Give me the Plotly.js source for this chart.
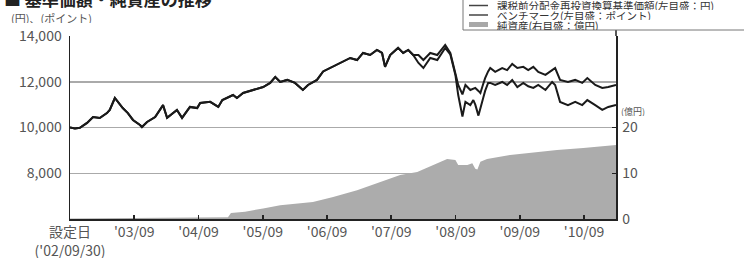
<!DOCTYPE html>
<html>
<head>
<meta charset="utf-8">
<script src="https://cdn.plot.ly/plotly-3.0.1.min.js"></script>
<style>
  html, body { margin: 0; padding: 0; background: #fff; }
  #chart { width: 744px; height: 258px; }
</style>
</head>
<body>
<div id="chart"></div>
<script>
// ---- Data ----
const lineDates = [
  "2002-09-30","2002-10-28","2002-11-25","2003-01-05","2003-02-08","2003-03-18","2003-04-28","2003-05-14",
  "2003-06-12","2003-06-29","2003-07-27","2003-08-25","2003-09-23","2003-11-02","2003-11-13","2003-12-12",
  "2004-01-27","2004-03-12","2004-04-04","2004-05-30","2004-06-28","2004-08-12","2004-09-22","2004-10-09",
  "2004-12-05","2005-01-20","2005-02-12","2005-04-14","2005-05-06","2005-06-10","2005-08-06","2005-10-02",
  "2005-11-11","2005-12-10","2006-01-07","2006-02-16","2006-04-01","2006-05-16","2006-06-14","2006-08-04",
  "2006-09-08","2006-10-18","2006-12-31","2007-02-09","2007-03-20","2007-04-23","2007-06-02","2007-07-11",
  "2007-08-09","2007-08-26","2007-09-24","2007-11-08","2007-12-07","2008-01-05","2008-02-02","2008-03-03",
  "2008-03-31","2008-05-09","2008-06-18","2008-08-02","2008-08-31","2008-09-29","2008-10-15","2008-11-08",
  "2008-11-25","2008-12-23","2009-01-09","2009-01-20","2009-02-07","2009-02-18","2009-03-06","2009-03-17",
  "2009-04-03","2009-04-15","2009-05-13","2009-06-22","2009-07-20","2009-08-18","2009-09-16","2009-10-20",
  "2009-11-17","2009-12-16","2010-01-13","2010-02-23","2010-04-02","2010-04-19","2010-05-17","2010-07-01",
  "2010-08-11","2010-09-20","2010-10-19","2010-12-03","2011-01-12","2011-02-15","2011-03-31"
];
// 課税前分配金再投資換算基準価額 (円)
const fundNav = [
  10000, 9960, 9990,10200,10460,10415,10630,10770,
  11290,11120,10850,10630,10330,10110,10020,10240,
  10460,10980,10420,10770,10420,10900,10850,11070,
  11120,10900,11200,11420,11290,11510,11640,11770,
  11950,12210,11990,12080,11950,11640,11860,12080,
  12450,12600,12860,13040,12950,13260,13170,13390,
  13260,12650,13170,13480,13260,13390,13170,13170,
  12950,13260,13170,13610,13260,12430,11860,11450,
  11860,11640,11700,11730,11600,11510,11900,12160,
  12450,12600,12430,12600,12510,12780,12600,12650,
  12510,12650,12430,12300,12510,12600,12080,11990,
  12080,11950,12160,11860,11730,11770,11860
];
// ベンチマーク (ポイント)
const benchmark = [
  10000, 9960, 9990,10200,10460,10415,10630,10770,
  11290,11120,10850,10630,10330,10110,10020,10240,
  10460,10980,10420,10770,10420,10900,10850,11070,
  11120,10900,11200,11420,11290,11510,11640,11770,
  11950,12210,11990,12080,11950,11640,11860,12080,
  12450,12600,12860,13040,12950,13260,13170,13390,
  13260,12650,13170,13480,13260,13390,13170,12820,
  12600,13040,12950,13480,13200,12300,11420,10480,
  11120,10980,11200,11000,10520,10800,11290,11600,
  11950,11950,11860,11990,11860,12080,11770,11950,
  11800,11730,11860,11640,11990,11860,11120,10980,
  11120,10980,11200,10980,10770,10900,10980
];
// 純資産 (億円)
const assetDates = [
  "2002-09-30","2004-01-13","2005-03-16","2005-04-02","2005-06-21","2005-10-02","2006-01-07","2006-07-12",
  "2006-11-04","2007-03-20","2007-07-28","2007-11-20","2008-02-25","2008-05-26","2008-08-13","2008-09-29",
  "2008-10-15","2008-12-06","2009-01-03","2009-01-20","2009-02-01","2009-02-18","2009-03-28","2009-08-06",
  "2009-12-16","2010-04-30","2010-09-26","2011-03-31"
];
const netAssets = [
  0.1, 0.2, 0.4, 1.3, 1.6, 2.3, 3.0, 3.7,
  4.8, 6.3, 8.1, 9.6, 10.3, 11.8, 13.1, 12.9,
  11.8, 11.8, 12.2, 11.0, 10.8, 12.5, 13.1, 14.0,
  14.6, 15.1, 15.5, 16.2
];
const xTickVals = ["2002-09-30","2003-09-30","2004-09-30","2005-09-30","2006-09-30","2007-09-30","2008-09-30","2009-09-30","2010-09-30"];
const xTickText = ["設定日<br>('02/09/30)","'03/09","'04/09","'05/09","'06/09","'07/09","'08/09","'09/09","'10/09"];
const leftTicks = [8000, 10000, 12000, 14000];
const rightTicks = [0, 10, 20];
const legendNames = ["課税前分配金再投資換算基準価額(左目盛：円)", "ベンチマーク(左目盛：ポイント)", "純資産(右目盛：億円)"];

// ---- Layout helpers (pixel -> paper) ----
const W = 744, H = 258, ML = 70, MR = 128, MT = 36, MB = 39;
const PW = W - ML - MR, PH = H - MT - MB;
const px = x => (x - ML) / PW;
const py = y => (H - MB - y) / PH;
const FONT = '"Noto Sans CJK JP", "Noto Sans", sans-serif';

const traces = [
  { x: assetDates, y: netAssets, yaxis: 'y2', type: 'scatter', mode: 'lines',
    fill: 'tozeroy', fillcolor: '#acacac', line: { width: 0, color: '#acacac' },
    name: legendNames[2], showlegend: false, hoverinfo: 'skip' },
  { x: lineDates, y: benchmark, type: 'scatter', mode: 'lines',
    line: { color: '#1a1a1a', width: 2 }, name: legendNames[1], showlegend: false },
  { x: lineDates, y: fundNav, type: 'scatter', mode: 'lines',
    line: { color: '#1a1a1a', width: 2 }, name: legendNames[0], showlegend: false }
];

const tickFont = { family: FONT, size: 14, color: '#555' };
const legRows = [5.5, 15, 24.5];

const layout = {
  width: W, height: H,
  margin: { l: ML, r: MR, t: MT, b: MB, pad: 0 },
  paper_bgcolor: '#fff', plot_bgcolor: '#fff',
  showlegend: false,
  xaxis: {
    type: 'date', range: ['2002-09-30', '2011-03-31'],
    tickvals: xTickVals, ticktext: xTickText,
    ticks: 'inside', ticklen: 4, tickwidth: 1.5, tickcolor: '#222',
    showline: true, linecolor: '#222', linewidth: 1.5,
    showgrid: false, zeroline: false, tickfont: tickFont
  },
  yaxis: {
    range: [6000, 14000], tickvals: leftTicks, tickformat: ',d',
    showgrid: true, gridcolor: '#aaa', gridwidth: 1.5,
    showline: true, linecolor: '#222', linewidth: 1.5,
    ticks: '', zeroline: false, tickfont: tickFont, ticklabelstandoff: 4
  },
  yaxis2: {
    overlaying: 'y', side: 'right', range: [0, 40], tickvals: rightTicks,
    showgrid: false, zeroline: false,
    showline: true, linecolor: '#222', linewidth: 1.5,
    ticks: 'inside', ticklen: 4, tickwidth: 1.5, tickcolor: '#222',
    tickfont: tickFont, ticklabelstandoff: 2
  },
  shapes: [
    { type: 'line', xref: 'paper', yref: 'paper', x0: 1, x1: 1, y0: 1, y1: py(30),
      line: { color: '#222', width: 1.5 } },
    { type: 'rect', xref: 'paper', yref: 'paper', x0: px(463), x1: px(760), y0: py(30), y1: py(-2),
      line: { color: '#777', width: 1 }, fillcolor: '#fff', layer: 'above' },
    { type: 'line', xref: 'paper', yref: 'paper', x0: px(469), x1: px(488), y0: py(legRows[0]), y1: py(legRows[0]),
      line: { color: '#444', width: 1.5 } },
    { type: 'line', xref: 'paper', yref: 'paper', x0: px(469), x1: px(488), y0: py(legRows[1]), y1: py(legRows[1]),
      line: { color: '#444', width: 1.5 } },
    { type: 'rect', xref: 'paper', yref: 'paper', x0: px(469), x1: px(488), y0: py(27), y1: py(22),
      line: { width: 0 }, fillcolor: '#a8a8a8', layer: 'above' }
  ],
  annotations: [
    { text: '■ 基準価額・純資産の推移', xref: 'paper', yref: 'paper', x: px(2), y: py(-1.5),
      xanchor: 'left', yanchor: 'middle', showarrow: false,
      font: { family: FONT, size: 17, color: '#222', weight: 'bold' } },
    { text: '(円)、(ポイント)', xref: 'paper', yref: 'paper', x: px(9), y: py(17.5),
      xanchor: 'left', yanchor: 'middle', showarrow: false, height: 11,
      font: { family: FONT, size: 11, color: '#555' } },
    { text: '(億円)', xref: 'paper', yref: 'paper', x: px(620), y: py(111.5),
      xanchor: 'left', yanchor: 'middle', showarrow: false, height: 9, borderpad: 0,
      font: { family: FONT, size: 9, color: '#555' } },
    { text: legendNames[0], xref: 'paper', yref: 'paper', x: px(496), y: py(legRows[0]),
      xanchor: 'left', yanchor: 'middle', showarrow: false, height: 10, borderpad: 0,
      font: { family: FONT, size: 10.5, color: '#333' } },
    { text: legendNames[1], xref: 'paper', yref: 'paper', x: px(496), y: py(legRows[1]),
      xanchor: 'left', yanchor: 'middle', showarrow: false, height: 10, borderpad: 0,
      font: { family: FONT, size: 10.5, color: '#333' } },
    { text: legendNames[2], xref: 'paper', yref: 'paper', x: px(496), y: py(legRows[2]),
      xanchor: 'left', yanchor: 'middle', showarrow: false, height: 10, borderpad: 0,
      font: { family: FONT, size: 10.5, color: '#333' } }
  ]
};

Plotly.newPlot('chart', traces, layout, { displayModeBar: false, staticPlot: true });
</script>
</body>
</html>
